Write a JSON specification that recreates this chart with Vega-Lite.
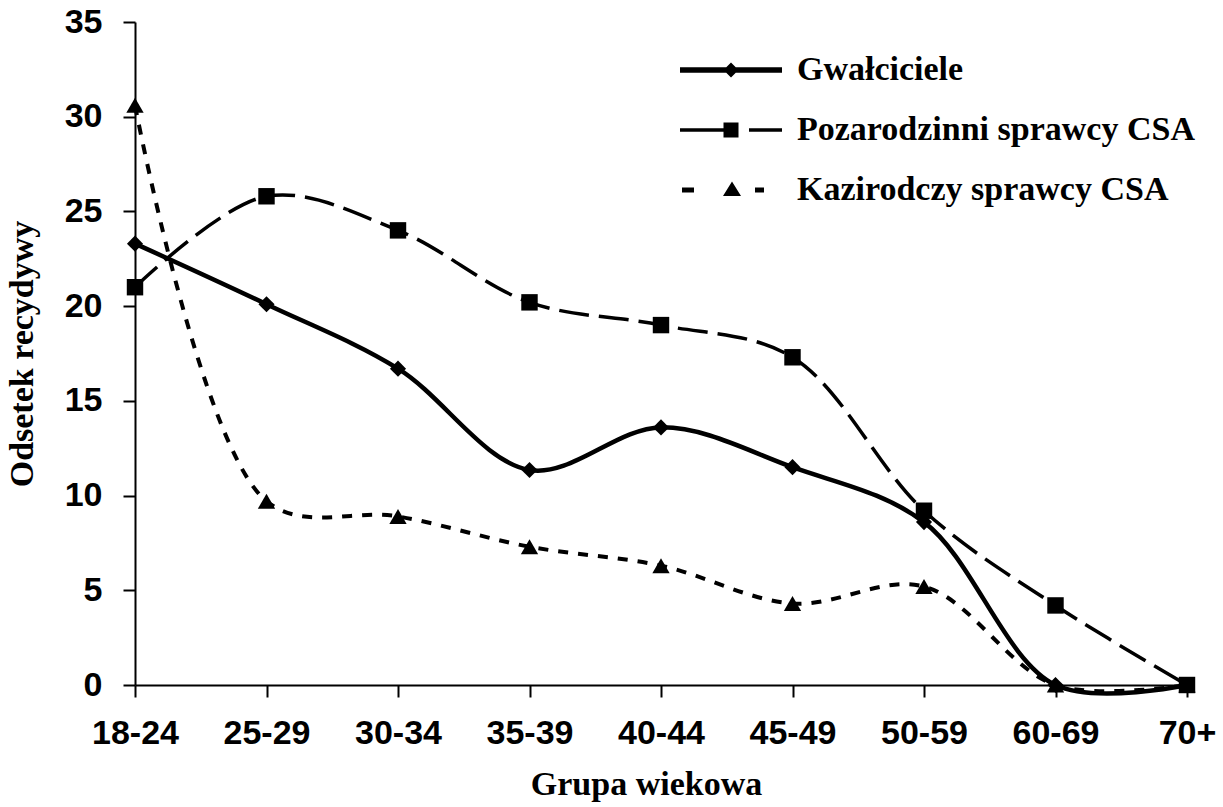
{
  "$schema": "https://vega.github.io/schema/vega-lite/v6.json",
  "width": 1052,
  "height": 663,
  "autosize": "none",
  "padding": {"left": 135, "top": 22, "right": 36, "bottom": 122},
  "background": "white",
  "config": {"view": {"stroke": null}},
  "data": {
    "values": [
      {"grupa": "18-24", "seria": "Gwałciciele", "wartosc": 23.3},
      {"grupa": "25-29", "seria": "Gwałciciele", "wartosc": 20.1},
      {"grupa": "30-34", "seria": "Gwałciciele", "wartosc": 16.7},
      {"grupa": "35-39", "seria": "Gwałciciele", "wartosc": 11.35},
      {"grupa": "40-44", "seria": "Gwałciciele", "wartosc": 13.6},
      {"grupa": "45-49", "seria": "Gwałciciele", "wartosc": 11.5},
      {"grupa": "50-59", "seria": "Gwałciciele", "wartosc": 8.6},
      {"grupa": "60-69", "seria": "Gwałciciele", "wartosc": 0},
      {"grupa": "70+", "seria": "Gwałciciele", "wartosc": 0},
      {"grupa": "18-24", "seria": "Pozarodzinni sprawcy CSA", "wartosc": 21.0},
      {"grupa": "25-29", "seria": "Pozarodzinni sprawcy CSA", "wartosc": 25.8},
      {"grupa": "30-34", "seria": "Pozarodzinni sprawcy CSA", "wartosc": 24.0},
      {"grupa": "35-39", "seria": "Pozarodzinni sprawcy CSA", "wartosc": 20.2},
      {"grupa": "40-44", "seria": "Pozarodzinni sprawcy CSA", "wartosc": 19.0},
      {"grupa": "45-49", "seria": "Pozarodzinni sprawcy CSA", "wartosc": 17.3},
      {"grupa": "50-59", "seria": "Pozarodzinni sprawcy CSA", "wartosc": 9.2},
      {"grupa": "60-69", "seria": "Pozarodzinni sprawcy CSA", "wartosc": 4.2},
      {"grupa": "70+", "seria": "Pozarodzinni sprawcy CSA", "wartosc": 0},
      {"grupa": "18-24", "seria": "Kazirodczy sprawcy CSA", "wartosc": 30.6},
      {"grupa": "25-29", "seria": "Kazirodczy sprawcy CSA", "wartosc": 9.7},
      {"grupa": "30-34", "seria": "Kazirodczy sprawcy CSA", "wartosc": 8.9},
      {"grupa": "35-39", "seria": "Kazirodczy sprawcy CSA", "wartosc": 7.3},
      {"grupa": "40-44", "seria": "Kazirodczy sprawcy CSA", "wartosc": 6.3},
      {"grupa": "45-49", "seria": "Kazirodczy sprawcy CSA", "wartosc": 4.3},
      {"grupa": "50-59", "seria": "Kazirodczy sprawcy CSA", "wartosc": 5.2},
      {"grupa": "60-69", "seria": "Kazirodczy sprawcy CSA", "wartosc": 0},
      {"grupa": "70+", "seria": "Kazirodczy sprawcy CSA", "wartosc": 0}
    ]
  },
  "encoding": {
    "x": {
      "field": "grupa",
      "type": "ordinal",
      "sort": ["18-24", "25-29", "30-34", "35-39", "40-44", "45-49", "50-59", "60-69", "70+"],
      "scale": {"type": "point", "padding": 0},
      "axis": {
        "title": "Grupa wiekowa",
        "titleFont": "Liberation Serif",
        "titleFontSize": 34,
        "titleFontWeight": "bold",
        "titleColor": "black",
        "titlePadding": 17,
        "titleX": 511,
        "labelFont": "Liberation Sans",
        "labelFontSize": 34,
        "labelFontWeight": "bold",
        "labelColor": "black",
        "labelAngle": 0,
        "labelPadding": 19,
        "tickSize": 12,
        "tickWidth": 2,
        "tickColor": "black",
        "domainColor": "black",
        "domainWidth": 2,
        "grid": false
      }
    },
    "y": {
      "field": "wartosc",
      "type": "quantitative",
      "scale": {"domain": [0, 35], "nice": false, "zero": true},
      "axis": {
        "values": [0, 5, 10, 15, 20, 25, 30, 35],
        "title": "Odsetek recydywy",
        "titleFont": "Liberation Serif",
        "titleFontSize": 34,
        "titleFontWeight": "bold",
        "titleColor": "black",
        "titlePadding": 25,
        "labelFont": "Liberation Sans",
        "labelFontSize": 34,
        "labelFontWeight": "bold",
        "labelColor": "black",
        "labelPadding": 21,
        "tickSize": 12,
        "tickWidth": 2,
        "tickColor": "black",
        "domainColor": "black",
        "domainWidth": 2,
        "grid": false
      }
    }
  },
  "layer": [
    {
      "transform": [{"filter": "datum.wartosc < -1000"}],
      "mark": {"type": "point", "filled": true, "color": "black", "stroke": "black", "strokeWidth": 4.5, "size": 400, "opacity": 1},
      "encoding": {
        "shape": {
          "field": "seria",
          "type": "nominal",
          "scale": {
            "domain": ["Gwałciciele", "Pozarodzinni sprawcy CSA", "Kazirodczy sprawcy CSA"],
            "range": [
              "M-4.4,-0.27H5.8V0.27H-4.4Z M0.7,-0.75L1.45,0L0.7,0.75L-0.05,0Z",
              "M-4.4,-0.18H-0.05V0.18H-4.4Z M-0.05,-0.75H1.45V0.75H-0.05Z M2.5,-0.18H5.8V0.18H2.5Z",
              "M-4.2,-0.25H-3.0V0.25H-4.2Z M0.8,-0.85L1.7,0.6L-0.1,0.6Z M3.1,-0.25H4.0V0.25H3.1Z"
            ]
          },
          "legend": {
            "title": null,
            "orient": "none",
            "legendX": 572,
            "legendY": 31,
            "padding": 0,
            "symbolSize": 400,
            "symbolFillColor": "black",
            "symbolStrokeColor": "black",
            "symbolStrokeWidth": 0,
            "symbolOpacity": 1,
            "rowPadding": 26,
            "labelOffset": 56,
            "labelFont": "Liberation Serif",
            "labelFontSize": 34,
            "labelFontWeight": "bold",
            "labelColor": "black",
            "labelLimit": 600
          }
        }
      }
    },
    {
      "transform": [{"filter": "datum.seria === 'Gwałciciele'"}],
      "mark": {"type": "line", "interpolate": "catmull-rom", "strokeWidth": 4.5, "color": "black"}
    },
    {
      "transform": [{"filter": "datum.seria === 'Pozarodzinni sprawcy CSA'"}],
      "mark": {"type": "line", "interpolate": "catmull-rom", "strokeWidth": 3.5, "strokeDash": [30, 10], "color": "black"}
    },
    {
      "transform": [{"filter": "datum.seria === 'Kazirodczy sprawcy CSA'"}],
      "mark": {"type": "line", "interpolate": "catmull-rom", "strokeWidth": 4, "strokeDash": [10, 10], "color": "black"}
    },
    {
      "transform": [{"filter": "datum.seria === 'Gwałciciele'"}],
      "mark": {"type": "point", "filled": true, "color": "black", "shape": "diamond", "size": 260, "opacity": 1}
    },
    {
      "transform": [{"filter": "datum.seria === 'Pozarodzinni sprawcy CSA'"}],
      "mark": {"type": "point", "filled": true, "color": "black", "shape": "square", "size": 270, "opacity": 1}
    },
    {
      "transform": [{"filter": "datum.seria === 'Kazirodczy sprawcy CSA'"}],
      "mark": {"type": "point", "filled": true, "color": "black", "shape": "triangle-up", "size": 300, "opacity": 1}
    }
  ]
}
